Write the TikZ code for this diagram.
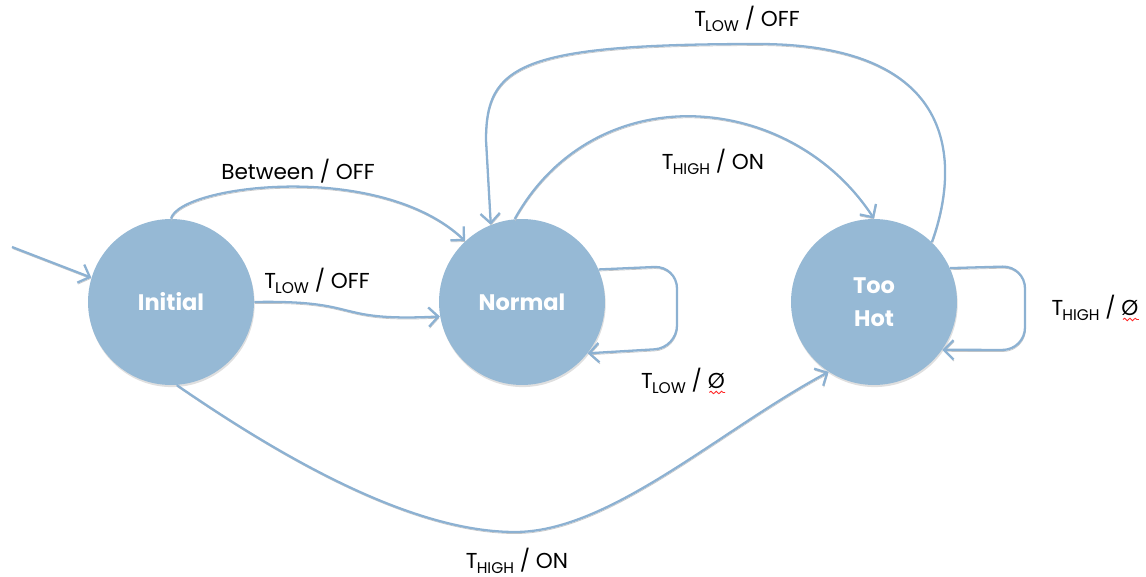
\documentclass[tikz,border=0pt]{standalone}
\usepackage{fontspec}
\setmainfont{Poppins}
\usetikzlibrary{arrows.meta,shadows,decorations.pathmorphing}

\definecolor{zustand}{RGB}{150,185,213}
\definecolor{pfeil}{RGB}{140,177,210}

\newcommand{\Tsub}[1]{T\kern-0.5pt\raisebox{-0.45ex}{\fontsize{8.8}{10}\selectfont #1}}

\tikzset{
	state/.style={circle, fill=zustand, minimum size=3.32cm, inner sep=0pt,
		text=white, font=\fontsize{12.8}{18.5}\selectfont\bfseries, align=center,
		drop shadow={opacity=0.25, shadow xshift=0.4pt, shadow yshift=-1.2pt}},
	trans/.style={draw=pfeil, line width=1.3pt,
		-{Straight Barb[length=5.5pt, width=11pt]},
		preaction={draw=black!22, transform canvas={xshift=0.3pt, yshift=-0.9pt}}},
	lbl/.style={font=\fontsize{12.3}{14}\selectfont, inner sep=0pt},
	squiggle/.style={draw=red!85, line width=0.5pt, decorate,
		decoration={snake, amplitude=0.7pt, segment length=3pt}}
}

\begin{document}
\begin{tikzpicture}[x=0.02cm, y=-0.02cm]
	\useasboundingbox (0, 0) rectangle (1146, 577);

	% Zustaende
	\node[state] (initial) at (171, 302) {Initial};
	\node[state] (normal) at (522, 302) {Normal};
	\node[state] (toohot) at (874, 302) {Too\\Hot};
	\coordinate (start) at (12, 247);

	% Uebergaenge
	\draw[trans] (start) -- (initial.163);
	\draw[trans] (initial.90) .. controls (180, 185) and (380, 160) .. (normal.133);
	\draw[trans] (initial.0) .. controls (365, 300) and (330, 322) .. (normal.190);
	\draw[trans, rounded corners=0.45cm] (normal.23) -- (677, 266) -- (677, 348)
		-- (normal.322);
	\draw[trans] (normal.95) .. controls (595, 75) and (790, 90) .. (toohot.90);
	\draw[trans] (toohot.46) .. controls (958, 170) and (965, 45) .. (760, 44)
		.. controls (520, 44) and (486, 65) .. (486, 140) -- (normal.112);
	\draw[trans, rounded corners=0.45cm] (toohot.24) -- (1025, 266) -- (1025, 350)
		-- (toohot.325);
	\draw[trans] (initial.274) .. controls (300, 470) and (420, 532) .. (515, 532)
		.. controls (610, 532) and (720, 430) .. (toohot.237);

	% Beschriftungen
	\node[lbl] (lblbetween) at (298, 171) {Between / OFF};
	\node[lbl] (lbllowoff) at (317, 281) {\Tsub{LOW} / OFF};
	\node[lbl] (lbllowstay) at (683, 381) {\Tsub{LOW} / Ø};
	\node[lbl] (lblhighon) at (713, 162) {\Tsub{HIGH} / ON};
	\node[lbl] (lbltopoff) at (747, 19) {\Tsub{LOW} / OFF};
	\node[lbl] (lblhighstay) at (1095, 308) {\Tsub{HIGH} / Ø};
	\node[lbl] (lblbottomon) at (517, 561) {\Tsub{HIGH} / ON};
	\draw[squiggle] ([xshift=-9pt, yshift=1pt]lbllowstay.south east)
		-- ([yshift=1pt]lbllowstay.south east);
	\draw[squiggle] ([xshift=-9pt, yshift=1pt]lblhighstay.south east)
		-- ([yshift=1pt]lblhighstay.south east);
\end{tikzpicture}
\end{document}
